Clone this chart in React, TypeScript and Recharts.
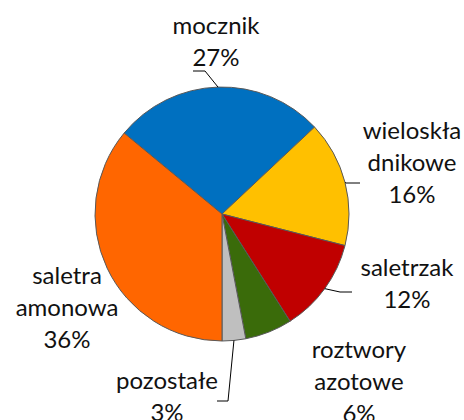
import React from 'react';
import { PieChart, Pie, Cell } from 'recharts';

const categories = ['mocznik', 'wieloskładnikowe', 'saletrzak', 'roztwory azotowe', 'pozostałe', 'saletra amonowa'];
const shares = [27, 16, 12, 6, 3, 36];
const labelLines = [['mocznik'], ['wieloskła', 'dnikowe'], ['saletrzak'], ['roztwory', 'azotowe'], ['pozostałe'], ['saletra', 'amonowa']];
const colors = ['#0070C0', '#FFC000', '#C00000', '#3A6B0A', '#BFBFBF', '#FF6600'];

// label layout relative to pie centre; leader: [elbowDx, elbowDy, endDx]
const labelLayout: { dx: number; dy: number; leader?: number[] }[] = [
  { dx: -6, dy: -174, leader: [-17, -143, -29] },
  { dx: 190, dy: -53, leader: [124, -31, 138] },
  { dx: 185, dy: 68, leader: [118, 78, 130] },
  { dx: 137, dy: 166 },
  { dx: -55, dy: 181, leader: [6, 187, -5] },
  { dx: -155, dy: 92 },
];

const data = categories.map((name, i) => ({ name, value: shares[i] }));

const FONT = 'Lato, "Open Sans", sans-serif';
const LINE_H = 32;

const renderLabel = (props: any) => {
  const { cx, cy, midAngle, outerRadius, index } = props;
  const lay = labelLayout[index];
  const lines = [...labelLines[index], `${shares[index]}%`];
  const x = cx + lay.dx;
  const yTop = cy + lay.dy - ((lines.length - 1) * LINE_H) / 2;
  const rad = (midAngle * Math.PI) / 180;
  const sx = cx + outerRadius * Math.cos(rad);
  const sy = cy - outerRadius * Math.sin(rad);
  return (
    <g key={`lbl-${index}`}>
      {lay.leader && (
        <polyline
          points={`${sx},${sy} ${cx + lay.leader[0]},${cy + lay.leader[1]} ${cx + lay.leader[2]},${cy + lay.leader[1]}`}
          fill="none"
          stroke="#000"
          strokeWidth={1}
        />
      )}
      <text x={x} y={yTop} textAnchor="middle" fill="#111" fontFamily={FONT} fontSize={24}>
        {lines.map((l, j) => (
          <tspan key={j} x={x} y={yTop + j * LINE_H} dominantBaseline="central">
            {l}
          </tspan>
        ))}
      </text>
    </g>
  );
};

export default function App() {
  return (
    <div style={{ position: 'absolute', left: 0, top: 0, background: '#fff' }}>
      <PieChart width={464} height={420} margin={{ top: 0, right: 0, bottom: 0, left: 0 }}>
        <Pie
          data={data}
          dataKey="value"
          nameKey="name"
          cx={222}
          cy={214}
          outerRadius={127}
          startAngle={140.4}
          endAngle={-219.6}
          stroke="#595959"
          strokeWidth={1}
          label={renderLabel}
          labelLine={false}
          isAnimationActive={false}
        >
          {data.map((d, i) => (
            <Cell key={d.name} fill={colors[i]} />
          ))}
        </Pie>
      </PieChart>
    </div>
  );
}
